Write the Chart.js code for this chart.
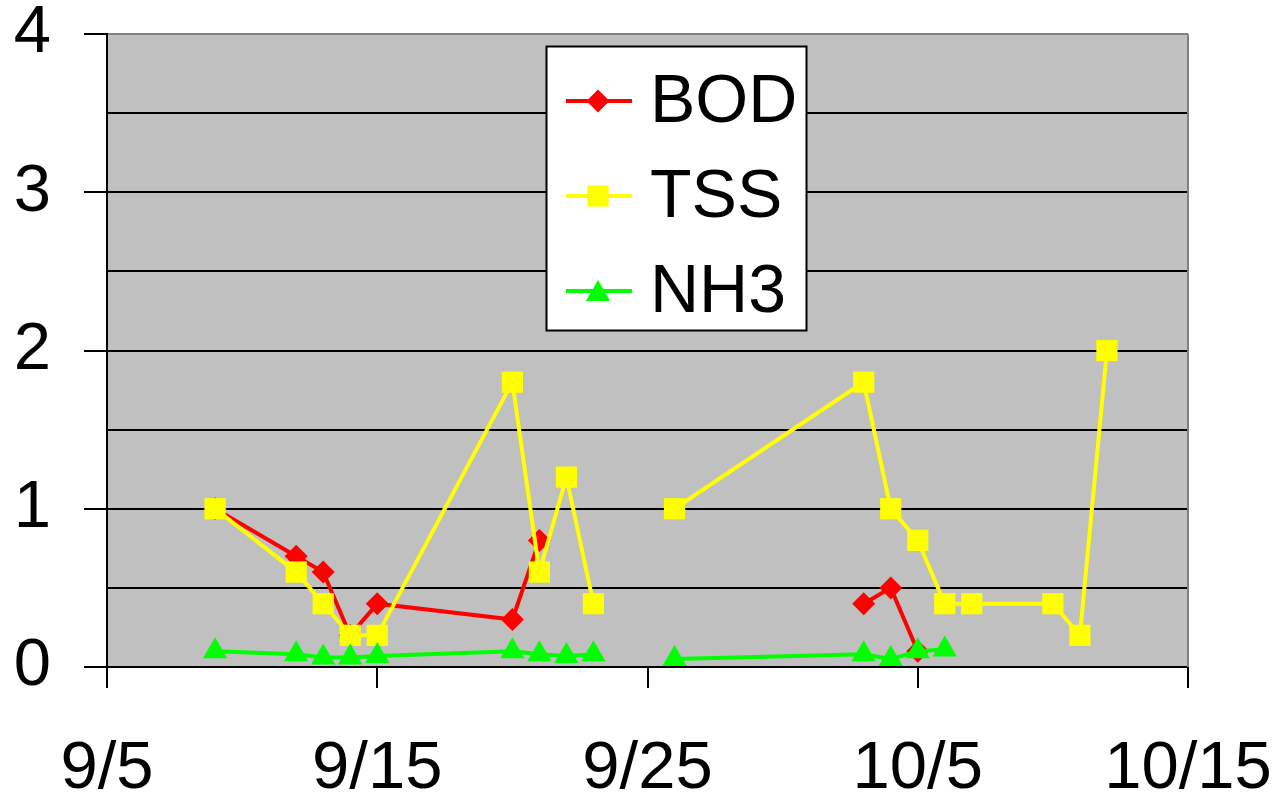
<!DOCTYPE html>
<html>
<head>
<meta charset="utf-8">
<script src="https://cdn.jsdelivr.net/npm/chart.js@4"></script>
<style>
  body { margin: 0; background: #fff; }
  #wrap { width: 1280px; height: 800px; }
</style>
</head>
<body>
<div id="wrap"><canvas id="grafico"></canvas></div>
<script>
// ===== DATOS =====
const fechas = ['9/9', '9/12', '9/13', '9/14', '9/15', '9/20', '9/21', '9/22', '9/23', '9/24', '9/26', '10/3', '10/4', '10/5', '10/6', '10/7', '10/10', '10/11', '10/12'];
const bod = [1.0, 0.7, 0.6, 0.2, 0.4, 0.3, 0.8, null, null, null, null, 0.4, 0.5, 0.1, null, null, null, null, null];
const tss = [1.0, 0.6, 0.4, 0.2, 0.2, 1.8, 0.6, 1.2, 0.4, null, 1.0, 1.8, 1.0, 0.8, 0.4, 0.4, 0.4, 0.2, 2.0];
const nh3 = [0.1, 0.08, 0.06, 0.06, 0.07, 0.1, 0.08, 0.07, 0.08, null, 0.05, 0.08, 0.05, 0.1, 0.11, null, null, null, null];
const series = ['BOD', 'TSS', 'NH3'];
const ejeX = ['9/5', '9/15', '9/25', '10/5', '10/15'];
const ejeY = [0, 1, 2, 3, 4];

const FUENTE = '"Liberation Sans", Arial, sans-serif';

// días desde 9/5
function diaDe(fecha) {
    const [m, d] = fecha.split('/').map(Number);
    const base = { 9: 0, 10: 30 };
    return base[m] + d - 5;
}

function puntos(valores) {
    return fechas.map((f, i) => ({ x: diaDe(f), y: valores[i] }));
}

// ===== FONDO DEL ÁREA =====
const fondoPlugin = {
    id: 'fondo',
    beforeDraw(chart) {
        const { ctx, chartArea: a } = chart;
        ctx.save();
        ctx.fillStyle = '#c0c0c0';
        ctx.fillRect(a.left, a.top, a.right - a.left, a.bottom - a.top);
        ctx.restore();
    },
    afterDatasetsDraw(chart) {
        const { ctx, chartArea: a } = chart;
        ctx.save();
        ctx.strokeStyle = '#808080';
        ctx.lineWidth = 2;
        ctx.beginPath();
        ctx.moveTo(a.right, a.top);
        ctx.lineTo(a.right, a.bottom);
        ctx.stroke();
        ctx.restore();
    }
};

// ===== LEYENDA =====
const leyendaPlugin = {
    id: 'leyenda',
    afterDraw(chart) {
        const ctx = chart.ctx;
        ctx.save();
        ctx.fillStyle = '#fff';
        ctx.fillRect(546.5, 46.5, 260, 284);
        ctx.strokeStyle = '#000';
        ctx.lineWidth = 2;
        ctx.strokeRect(546.5, 46.5, 260, 284);

        chart.data.datasets.forEach((ds, i) => {
            const y = 101 + i * 95;
            ctx.strokeStyle = ds.borderColor;
            ctx.lineWidth = 4;
            ctx.beginPath();
            ctx.moveTo(566, y);
            ctx.lineTo(632, y);
            ctx.stroke();
            ctx.fillStyle = ds.pointBackgroundColor;
            ctx.strokeStyle = ds.pointBackgroundColor;
            Chart.helpers.drawPoint(ctx, {
                pointStyle: ds.pointStyle,
                radius: ds.pointRadius,
                rotation: 0,
                borderWidth: 0
            }, 598, ds.pointStyle === 'triangle' ? y + 3 : y);

            ctx.fillStyle = '#000';
            ctx.font = '68px ' + FUENTE;
            ctx.textBaseline = 'middle';
            ctx.textAlign = 'left';
            ctx.fillText(ds.label, 650, y + 2);
        });
        ctx.restore();
    }
};

function serie(nombre, valores, color, estilo, radio, orden) {
    return {
        label: nombre,
        data: puntos(valores),
        borderColor: color,
        backgroundColor: color,
        pointBackgroundColor: color,
        pointBorderColor: color,
        pointBorderWidth: 0,
        pointStyle: estilo,
        pointRadius: radio,
        borderWidth: 4,
        spanGaps: false,
        order: orden
    };
}

new Chart(document.getElementById('grafico'), {
    type: 'line',
    data: {
        datasets: [
            serie(series[0], bod, '#ff0000', 'rectRot', 11.5, 3),
            serie(series[1], tss, '#ffff00', 'rect', 15, 2),
            serie(series[2], nh3, '#00ff00', 'triangle', 14, 1)
        ]
    },
    options: {
        responsive: true,
        maintainAspectRatio: false,
        animation: false,
        layout: { padding: { top: 34, right: 92, left: 0, bottom: 0 } },
        plugins: {
            legend: { display: false },
            tooltip: { enabled: false }
        },
        scales: {
            x: {
                type: 'linear',
                min: diaDe(ejeX[0]),
                max: diaDe(ejeX[ejeX.length - 1]),
                afterBuildTicks(scale) {
                    scale.ticks = ejeX.map(f => ({ value: diaDe(f) }));
                },
                afterFit(scale) {
                    scale.height = 133;
                    scale.paddingLeft = 0;
                    scale.paddingRight = 0;
                },
                ticks: {
                    autoSkip: false,
                    maxRotation: 0,
                    padding: 41,
                    color: '#000',
                    font: { family: FUENTE, size: 67 },
                    callback: v => ejeX.find(f => diaDe(f) === v) || ''
                },
                grid: {
                    drawOnChartArea: false,
                    color: '#000',
                    lineWidth: 2,
                    tickLength: 21
                },
                border: { color: '#000', width: 2 }
            },
            y: {
                min: 0,
                max: 4,
                ticks: {
                    stepSize: 0.5,
                    autoSkip: false,
                    padding: 33,
                    color: '#000',
                    font: { family: FUENTE, size: 67 },
                    callback: v => ejeY.includes(v) ? String(v) : ''
                },
                afterFit(scale) {
                    scale.width = 107;
                    scale.paddingTop = 0;
                    scale.paddingBottom = 0;
                },
                grid: {
                    color: c => c.tick && c.tick.value === 4 ? '#808080' : '#000',
                    tickColor: c => c.tick && ejeY.includes(c.tick.value) ? '#000' : 'rgba(0,0,0,0)',
                    lineWidth: 2,
                    tickLength: 23
                },
                border: { color: '#000', width: 2 }
            }
        }
    },
    plugins: [fondoPlugin, leyendaPlugin]
});
</script>
</body>
</html>
